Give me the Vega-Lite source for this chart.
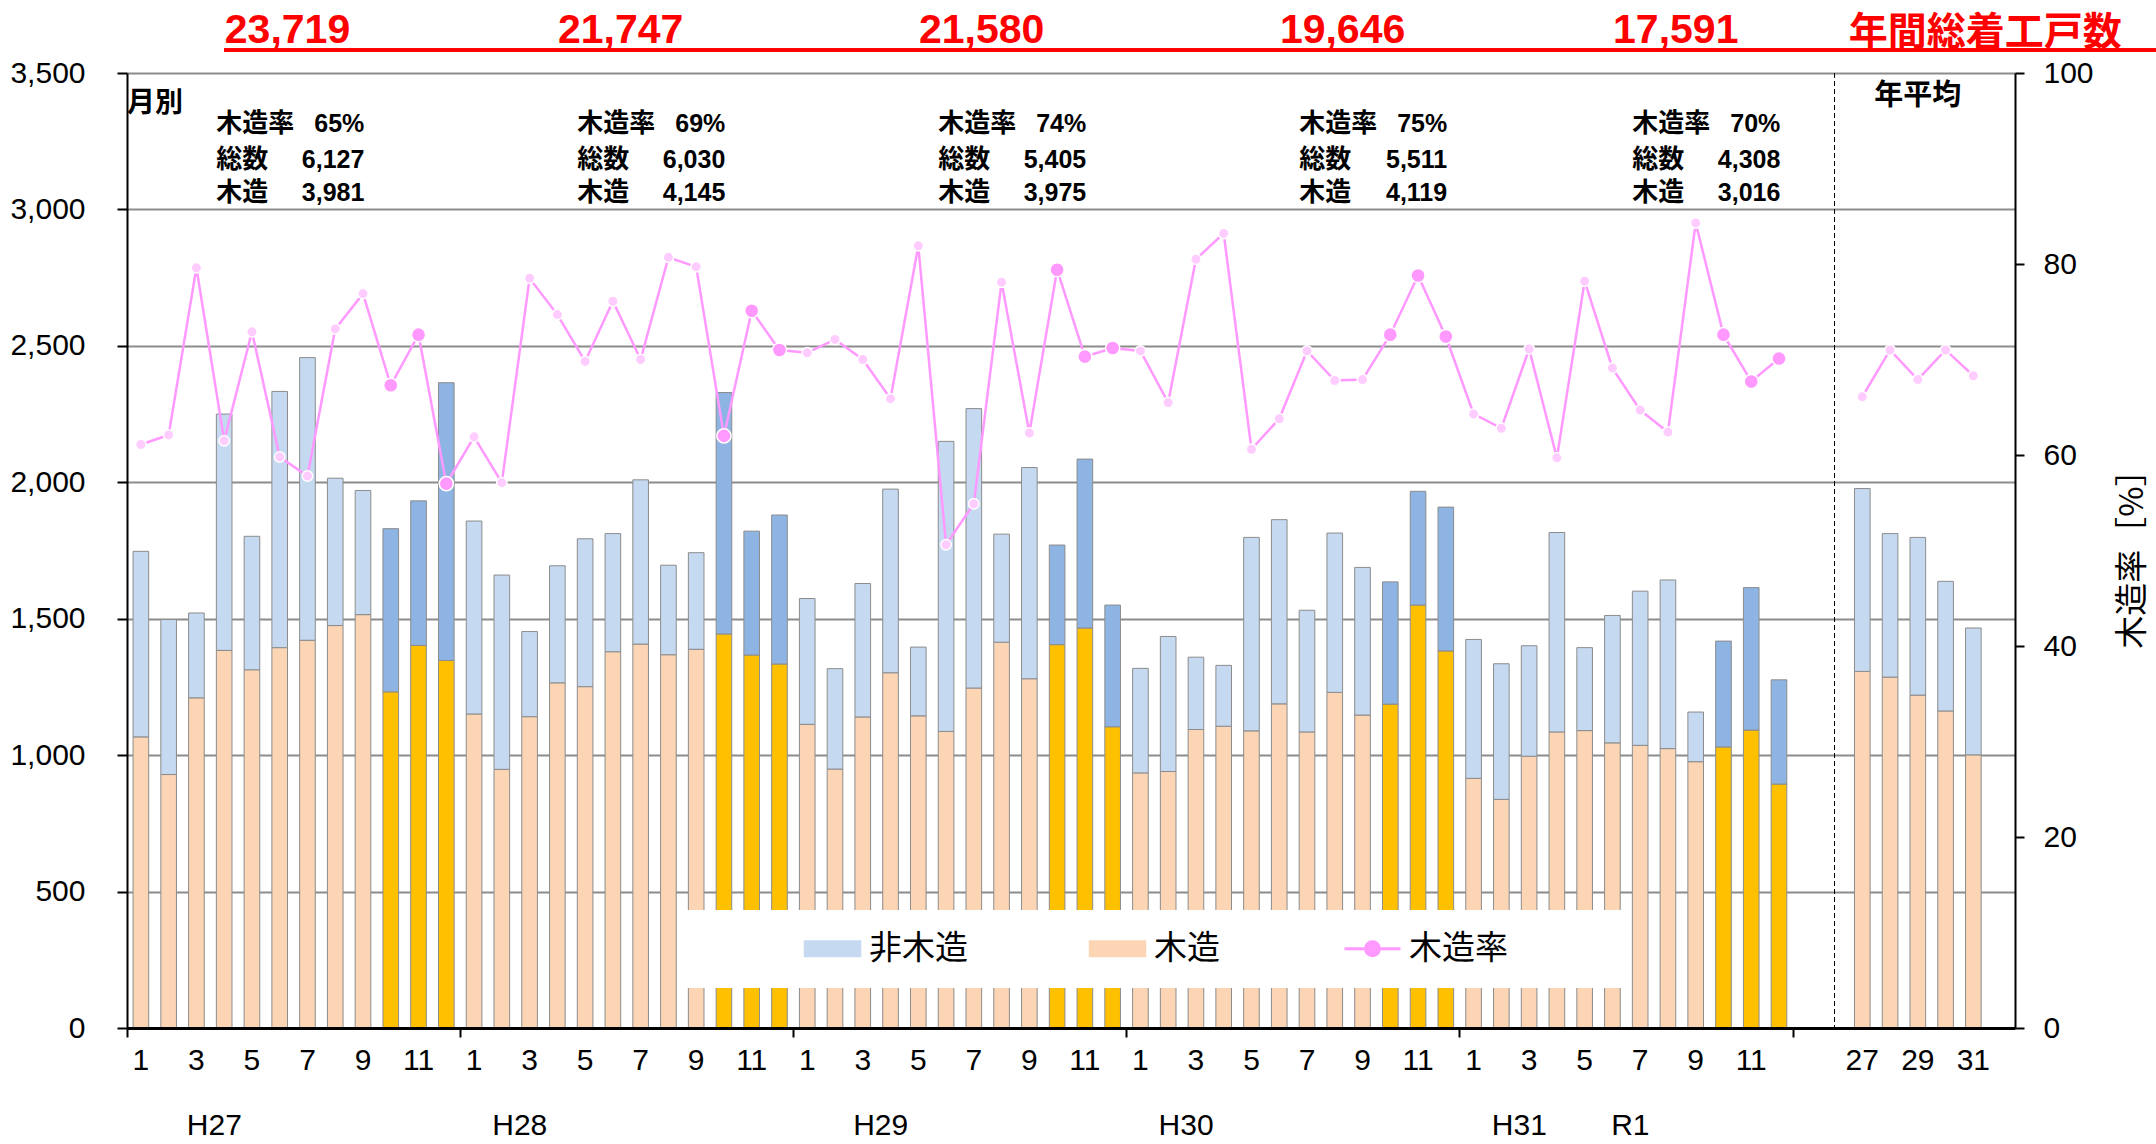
{
"$schema":"https://vega.github.io/schema/vega-lite/v6.json",
"width":1888,"height":955,
"autosize":{"type":"none"},
"padding":{"left":127,"top":73,"right":141,"bottom":116},
"background":"white",
"config":{"view":{"stroke":null},"font":"Liberation Sans"},
"datasets":{
"main":[
{"slot":0,"period":"月別","year":"H27","month":1,"wood":1067,"total":1747,"rate":61.1},
{"slot":1,"period":"月別","year":"H27","month":2,"wood":929,"total":1497,"rate":62.1},
{"slot":2,"period":"月別","year":"H27","month":3,"wood":1210,"total":1521,"rate":79.6},
{"slot":3,"period":"月別","year":"H27","month":4,"wood":1384,"total":2250,"rate":61.5},
{"slot":4,"period":"月別","year":"H27","month":5,"wood":1313,"total":1802,"rate":72.9},
{"slot":5,"period":"月別","year":"H27","month":6,"wood":1394,"total":2333,"rate":59.8},
{"slot":6,"period":"月別","year":"H27","month":7,"wood":1421,"total":2457,"rate":57.8},
{"slot":7,"period":"月別","year":"H27","month":8,"wood":1475,"total":2015,"rate":73.2},
{"slot":8,"period":"月別","year":"H27","month":9,"wood":1515,"total":1970,"rate":76.9},
{"slot":9,"period":"月別","year":"H27","month":10,"wood":1232,"total":1830,"rate":67.3},
{"slot":10,"period":"月別","year":"H27","month":11,"wood":1402,"total":1932,"rate":72.6},
{"slot":11,"period":"月別","year":"H27","month":12,"wood":1347,"total":2365,"rate":57.0},
{"slot":12,"period":"月別","year":"H28","month":1,"wood":1151,"total":1858,"rate":61.9},
{"slot":13,"period":"月別","year":"H28","month":2,"wood":948,"total":1660,"rate":57.1},
{"slot":14,"period":"月別","year":"H28","month":3,"wood":1141,"total":1453,"rate":78.5},
{"slot":15,"period":"月別","year":"H28","month":4,"wood":1265,"total":1694,"rate":74.7},
{"slot":16,"period":"月別","year":"H28","month":5,"wood":1251,"total":1793,"rate":69.8},
{"slot":17,"period":"月別","year":"H28","month":6,"wood":1379,"total":1812,"rate":76.1},
{"slot":18,"period":"月別","year":"H28","month":7,"wood":1407,"total":2009,"rate":70.0},
{"slot":19,"period":"月別","year":"H28","month":8,"wood":1368,"total":1696,"rate":80.7},
{"slot":20,"period":"月別","year":"H28","month":9,"wood":1388,"total":1742,"rate":79.7},
{"slot":21,"period":"月別","year":"H28","month":10,"wood":1444,"total":2329,"rate":62.0},
{"slot":22,"period":"月別","year":"H28","month":11,"wood":1367,"total":1821,"rate":75.1},
{"slot":23,"period":"月別","year":"H28","month":12,"wood":1334,"total":1880,"rate":71.0},
{"slot":24,"period":"月別","year":"H29","month":1,"wood":1113,"total":1574,"rate":70.7},
{"slot":25,"period":"月別","year":"H29","month":2,"wood":949,"total":1317,"rate":72.1},
{"slot":26,"period":"月別","year":"H29","month":3,"wood":1140,"total":1629,"rate":70.0},
{"slot":27,"period":"月別","year":"H29","month":4,"wood":1302,"total":1975,"rate":65.9},
{"slot":28,"period":"月別","year":"H29","month":5,"wood":1144,"total":1396,"rate":81.9},
{"slot":29,"period":"月別","year":"H29","month":6,"wood":1087,"total":2150,"rate":50.6},
{"slot":30,"period":"月別","year":"H29","month":7,"wood":1246,"total":2270,"rate":54.9},
{"slot":31,"period":"月別","year":"H29","month":8,"wood":1414,"total":1810,"rate":78.1},
{"slot":32,"period":"月別","year":"H29","month":9,"wood":1280,"total":2054,"rate":62.3},
{"slot":33,"period":"月別","year":"H29","month":10,"wood":1405,"total":1770,"rate":79.4},
{"slot":34,"period":"月別","year":"H29","month":11,"wood":1466,"total":2085,"rate":70.3},
{"slot":35,"period":"月別","year":"H29","month":12,"wood":1104,"total":1550,"rate":71.2},
{"slot":36,"period":"月別","year":"H30","month":1,"wood":935,"total":1318,"rate":70.9},
{"slot":37,"period":"月別","year":"H30","month":2,"wood":940,"total":1435,"rate":65.5},
{"slot":38,"period":"月別","year":"H30","month":3,"wood":1094,"total":1359,"rate":80.5},
{"slot":39,"period":"月別","year":"H30","month":4,"wood":1106,"total":1329,"rate":83.2},
{"slot":40,"period":"月別","year":"H30","month":5,"wood":1089,"total":1798,"rate":60.6},
{"slot":41,"period":"月別","year":"H30","month":6,"wood":1188,"total":1863,"rate":63.8},
{"slot":42,"period":"月別","year":"H30","month":7,"wood":1085,"total":1531,"rate":70.9},
{"slot":43,"period":"月別","year":"H30","month":8,"wood":1230,"total":1814,"rate":67.8},
{"slot":44,"period":"月別","year":"H30","month":9,"wood":1147,"total":1688,"rate":67.9},
{"slot":45,"period":"月別","year":"H30","month":10,"wood":1187,"total":1635,"rate":72.6},
{"slot":46,"period":"月別","year":"H30","month":11,"wood":1550,"total":1967,"rate":78.8},
{"slot":47,"period":"月別","year":"H30","month":12,"wood":1382,"total":1909,"rate":72.4},
{"slot":48,"period":"月別","year":"H31","month":1,"wood":915,"total":1424,"rate":64.3},
{"slot":49,"period":"月別","year":"H31","month":2,"wood":838,"total":1335,"rate":62.8},
{"slot":50,"period":"月別","year":"H31","month":3,"wood":996,"total":1401,"rate":71.1},
{"slot":51,"period":"月別","year":"H31","month":4,"wood":1085,"total":1816,"rate":59.7},
{"slot":52,"period":"月別","year":"R1","month":5,"wood":1090,"total":1394,"rate":78.2},
{"slot":53,"period":"月別","year":"R1","month":6,"wood":1045,"total":1512,"rate":69.1},
{"slot":54,"period":"月別","year":"R1","month":7,"wood":1036,"total":1601,"rate":64.7},
{"slot":55,"period":"月別","year":"R1","month":8,"wood":1024,"total":1642,"rate":62.4},
{"slot":56,"period":"月別","year":"R1","month":9,"wood":976,"total":1158,"rate":84.3},
{"slot":57,"period":"月別","year":"R1","month":10,"wood":1030,"total":1418,"rate":72.6},
{"slot":58,"period":"月別","year":"R1","month":11,"wood":1092,"total":1614,"rate":67.7},
{"slot":59,"period":"月別","year":"R1","month":12,"wood":894,"total":1276,"rate":70.1},
{"slot":62,"period":"年平均","year":"H27","month":null,"wood":1307,"total":1977,"rate":66.1},
{"slot":63,"period":"年平均","year":"H28","month":null,"wood":1286,"total":1812,"rate":71.0},
{"slot":64,"period":"年平均","year":"H29","month":null,"wood":1220,"total":1798,"rate":67.9},
{"slot":65,"period":"年平均","year":"H30","month":null,"wood":1162,"total":1637,"rate":71.0},
{"slot":66,"period":"年平均","year":"H31","month":null,"wood":1001,"total":1466,"rate":68.3}
],
"totals":[
{"slot":5,"year":"H27","total":23719},
{"slot":17,"year":"H28","total":21747},
{"slot":30,"year":"H29","total":21580},
{"slot":43,"year":"H30","total":19646},
{"slot":55,"year":"H31/R1","total":17591}
],
"q4":[
{"slot":3,"year":"H27","rate":0.65,"total":6127,"wood":3981},
{"slot":16,"year":"H28","rate":0.69,"total":6030,"wood":4145},
{"slot":29,"year":"H29","rate":0.74,"total":5405,"wood":3975},
{"slot":42,"year":"H30","rate":0.75,"total":5511,"wood":4119},
{"slot":54,"year":"R1","rate":0.70,"total":4308,"wood":3016}
],
"years":[
{"slot":3,"label":"H27"},
{"slot":14,"label":"H28"},
{"slot":27,"label":"H29"},
{"slot":38,"label":"H30"},
{"slot":50,"label":"H31"},
{"slot":54,"label":"R1"}
],
"sep":[{"slot":61}],
"head":[{"slot":66,"label":"年間総着工戸数"}],
"monthly":[{"slot":0,"label":"月別"}],
"annual":[{"slot":64,"label":"年平均"}]
},
"layer":[
{"layer":[
{"data":{"name":"main"},
 "mark":{"type":"bar","stroke":"#8C8C8C","strokeWidth":1},
 "encoding":{
  "x":{"field":"slot","type":"ordinal","title":null,
   "scale":{"domain":[0,1,2,3,4,5,6,7,8,9,10,11,12,13,14,15,16,17,18,19,20,21,22,23,24,25,26,27,28,29,30,31,32,33,34,35,36,37,38,39,40,41,42,43,44,45,46,47,48,49,50,51,52,53,54,55,56,57,58,59,60,61,62,63,64,65,66,67],"paddingInner":0.437,"paddingOuter":0.2185},
   "axis":{"title":null,"labelExpr":"datum.value < 60 ? (datum.value % 2 == 0 ? toString(datum.value % 12 + 1) : '') : ((datum.value == 62 || datum.value == 64 || datum.value == 66) ? toString(datum.value - 35) : '')",
    "labelAngle":0,"labelFont":"Liberation Sans","labelFontSize":30,"labelColor":"black","labelPadding":8,"labelOverlap":false,
    "bandPosition":-0.377,"tickSize":9,"tickWidth":2,"tickColor":"black",
    "tickOpacity":{"condition":{"test":"datum.value % 12 == 0 && datum.value <= 60","value":1},"value":0},
    "domainColor":"black","domainWidth":3,"grid":false,"zindex":1}},
  "y":{"field":"wood","type":"quantitative","stack":null,"title":null,
   "scale":{"domain":[0,3500],"nice":false},
   "axis":{"title":null,"values":[0,500,1000,1500,2000,2500,3000,3500],"format":",d","labelFont":"Liberation Sans","labelFontSize":30,"labelColor":"black","labelPadding":32,"tickSize":10,"tickWidth":2,"tickColor":"black","domainColor":"black","domainWidth":2,"grid":true,"gridColor":"#8C8C8C","gridWidth":2}},
  "color":{"condition":{"test":"datum.month >= 10","value":"#FFC000"},"datum":"木造","type":"nominal",
   "scale":{"domain":["非木造","木造","木造率"],"range":["#C5D9F1","#FCD5B5","#FF99FF"]},
   "legend":{"orient":"none","legendX":552,"legendY":837,"direction":"horizontal",
    "title":" ","titleOrient":"left","titlePadding":115,"titleFontSize":4,
    "values":["非木造","木造","木造率"],
    "fillColor":"white","padding":22,
    "symbolType":"M-1,-0.28H1V0.28H-1Z","symbolSize":3136,"symbolStrokeWidth":1.5,"symbolStrokeColor":"#8C8C8C",
    "labelFont":"Noto Sans CJK JP","labelFontSize":33,"labelColor":"black","labelOffset":20,"labelLimit":0,
    "columnPadding":118,
    "encode":{
     "labels":{"update":{"text":{"signal":"datum.value == '木造率' ? '木造率\u2800\u2800\u2800\u2800' : datum.label"}}},
     "symbols":{"update":{
      "shape":{"signal":"datum.value == '木造率' ? 'M-1,0H-0.25M0.25,0H1M-0.25,0A0.25,0.25 0 1,0 0.25,0A0.25,0.25 0 1,0 -0.25,0Z' : 'M-1,-0.28H1V0.28H-1Z'"},
      "fill":{"signal":"datum.value == '木造率' ? '#FFCCFF' : scale('color', datum.value)"},
      "stroke":{"signal":"datum.value == '木造率' ? '#FF99FF' : '#8C8C8C'"},
      "strokeWidth":{"signal":"datum.value == '木造率' ? 3 : 1.5"},
      "opacity":{"value":1}}}}}}
 }},
{"data":{"name":"main"},
 "mark":{"type":"bar","stroke":"#8C8C8C","strokeWidth":1},
 "encoding":{
  "x":{"field":"slot","type":"ordinal","title":null},
  "y":{"field":"wood","type":"quantitative","stack":null,"title":null},
  "y2":{"field":"total"},
  "color":{"condition":{"test":"datum.month >= 10","value":"#8DB4E2"},"datum":"非木造","type":"nominal"}
 }},
{"data":{"name":"sep"},
 "mark":{"type":"rule","color":"black","strokeWidth":1,"strokeDash":[5,3]},
 "encoding":{"x":{"field":"slot","type":"ordinal","title":null}}},
{"data":{"name":"totals"},
 "mark":{"type":"rule","color":"#FF0000","strokeWidth":3,"x2Offset":155},
 "encoding":{"x":{"datum":3,"type":"ordinal"},"x2":{"datum":67},"y":{"datum":3584,"type":"quantitative"}}},
{"data":{"name":"totals"},
 "mark":{"type":"text","font":"Liberation Sans","fontWeight":"bold","fontSize":41,"color":"#FF0000","align":"center","baseline":"alphabetic"},
 "encoding":{"x":{"field":"slot","type":"ordinal","bandPosition":1,"title":null},"y":{"datum":3610,"type":"quantitative"},"text":{"field":"total","type":"quantitative","format":","}}},
{"data":{"name":"head"},
 "mark":{"type":"text","font":"Noto Sans CJK JP","fontWeight":"bold","fontSize":39,"color":"#FF0000","align":"center","baseline":"alphabetic","dx":4},
 "encoding":{"x":{"field":"slot","type":"ordinal","bandPosition":1,"title":null},"y":{"datum":3601,"type":"quantitative"},"text":{"field":"label"}}},
{"data":{"name":"monthly"},
 "mark":{"type":"text","font":"Noto Sans CJK JP","fontWeight":"bold","fontSize":28,"color":"black","align":"left","baseline":"middle","dx":-6},
 "encoding":{"x":{"field":"slot","type":"ordinal","bandPosition":0,"title":null},"y":{"datum":3386,"type":"quantitative"},"text":{"field":"label"}}},
{"data":{"name":"annual"},
 "mark":{"type":"text","font":"Noto Sans CJK JP","fontWeight":"bold","fontSize":29,"color":"black","align":"center","baseline":"middle"},
 "encoding":{"x":{"field":"slot","type":"ordinal","title":null},"y":{"datum":3416,"type":"quantitative"},"text":{"field":"label"}}},
{"data":{"name":"q4"},
 "mark":{"type":"text","font":"Noto Sans CJK JP","fontWeight":"bold","fontSize":26,"color":"black","align":"left","baseline":"middle"},
 "encoding":{"x":{"field":"slot","type":"ordinal","bandPosition":0,"title":null},"y":{"datum":3313,"type":"quantitative"},"text":{"value":"木造率"}}},
{"data":{"name":"q4"},
 "mark":{"type":"text","font":"Noto Sans CJK JP","fontWeight":"bold","fontSize":26,"color":"black","align":"left","baseline":"middle"},
 "encoding":{"x":{"field":"slot","type":"ordinal","bandPosition":0,"title":null},"y":{"datum":3181,"type":"quantitative"},"text":{"value":"総数"}}},
{"data":{"name":"q4"},
 "mark":{"type":"text","font":"Noto Sans CJK JP","fontWeight":"bold","fontSize":26,"color":"black","align":"left","baseline":"middle"},
 "encoding":{"x":{"field":"slot","type":"ordinal","bandPosition":0,"title":null},"y":{"datum":3060,"type":"quantitative"},"text":{"value":"木造"}}},
{"data":{"name":"q4"},
 "mark":{"type":"text","font":"Liberation Sans","fontWeight":"bold","fontSize":25,"color":"black","align":"right","baseline":"middle","dx":148},
 "encoding":{"x":{"field":"slot","type":"ordinal","bandPosition":0,"title":null},"y":{"datum":3313,"type":"quantitative"},"text":{"field":"rate","type":"quantitative","format":".0%"}}},
{"data":{"name":"q4"},
 "mark":{"type":"text","font":"Liberation Sans","fontWeight":"bold","fontSize":25,"color":"black","align":"right","baseline":"middle","dx":148},
 "encoding":{"x":{"field":"slot","type":"ordinal","bandPosition":0,"title":null},"y":{"datum":3181,"type":"quantitative"},"text":{"field":"total","type":"quantitative","format":","}}},
{"data":{"name":"q4"},
 "mark":{"type":"text","font":"Liberation Sans","fontWeight":"bold","fontSize":25,"color":"black","align":"right","baseline":"middle","dx":148},
 "encoding":{"x":{"field":"slot","type":"ordinal","bandPosition":0,"title":null},"y":{"datum":3060,"type":"quantitative"},"text":{"field":"wood","type":"quantitative","format":","}}},
{"data":{"name":"years"},
 "mark":{"type":"text","font":"Liberation Sans","fontSize":30,"color":"black","align":"center","baseline":"middle","dx":-2},
 "encoding":{"x":{"field":"slot","type":"ordinal","bandPosition":0,"title":null},"y":{"datum":-359,"type":"quantitative"},"text":{"field":"label"}}}
]},
{"layer":[
{"data":{"name":"main"},
 "mark":{"type":"line","strokeWidth":2.5},
 "encoding":{
  "x":{"field":"slot","type":"ordinal","title":null},
  "y":{"field":"rate","type":"quantitative","title":"木造率［%］","scale":{"domain":[0,100],"nice":false},
   "axis":{"orient":"right","title":"木造率［%］","titleFont":"Noto Sans CJK JP","titleFontSize":33,"titleFontWeight":"normal","titleColor":"black","titleAngle":270,"titlePadding":56,
    "values":[0,20,40,60,80,100],"labelFont":"Liberation Sans","labelFontSize":30,"labelColor":"black","labelPadding":19,"tickSize":9,"tickWidth":2,"tickColor":"black","domainColor":"black","domainWidth":2,"grid":false}},
  "detail":{"field":"period"},
  "color":{"datum":"木造率","type":"nominal"}
 }},
{"data":{"name":"main"},
 "mark":{"type":"point","filled":true,"stroke":"white","strokeWidth":1.5,"opacity":1},
 "encoding":{
  "x":{"field":"slot","type":"ordinal","title":null},
  "y":{"field":"rate","type":"quantitative","title":"木造率［%］"},
  "fill":{"condition":{"test":"datum.month >= 10","value":"#FF99FF"},"value":"#FFCCFF"},
  "size":{"condition":{"test":"datum.month >= 10","value":200},"value":110}
 }}
]}
],
"resolve":{"scale":{"y":"independent"}}
}
